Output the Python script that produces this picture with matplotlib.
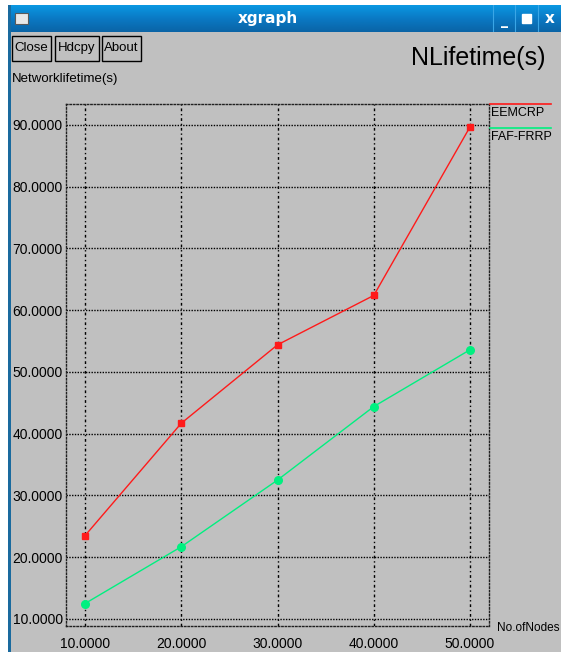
import numpy as np
import matplotlib
matplotlib.use("Agg")
import matplotlib.pyplot as plt
from matplotlib.patches import Rectangle
from matplotlib.lines import Line2D

# series data
nodes = [10, 20, 30, 40, 50]
eemcrp = [23.5, 41.7, 54.4, 62.4, 89.7]
faf_frrp = [12.5, 21.7, 32.5, 44.4, 53.6]
series_names = ["EEMCRP", "FAF-FRRP"]

x_ticks = [10, 20, 30, 40, 50]
y_ticks = [10, 20, 30, 40, 50, 60, 70, 80, 90]

W, H = 561, 652
BG = "#c0c0c0"
FONT = ["Liberation Sans", "DejaVu Sans"]


def fx(px):
    return px / W


def fy(py):
    return 1 - py / H


fig = plt.figure(figsize=(W / 100, H / 100), dpi=100, facecolor=BG)

# window frame: white outside, blue left border, gradient title bar
fig.add_artist(Rectangle((0, 0), fx(8), 1, transform=fig.transFigure,
                         facecolor="white", edgecolor="none"))
fig.add_artist(Rectangle((0, fy(5)), 1, 1 - fy(5), transform=fig.transFigure,
                         facecolor="white", edgecolor="none"))
fig.add_artist(Rectangle((fx(8), 0), fx(3), fy(5), transform=fig.transFigure,
                         facecolor="#1a6a9e", edgecolor="none"))

bar = fig.add_axes([fx(8), fy(32), 1 - fx(8), fy(5) - fy(32)])
grad = np.linspace(0, 1, 64).reshape(-1, 1)
cmap = matplotlib.colors.LinearSegmentedColormap.from_list(
    "bar", ["#0b98e2", "#0a79c4", "#0a64a6"])
bar.imshow(grad, aspect="auto", cmap=cmap, extent=[0, 1, 0, 1])
bar.set_axis_off()
bar.text(0.47, 0.5, "xgraph", color="white", fontsize=11, fontweight="bold",
         ha="center", va="center", family="DejaVu Sans")
bar.add_patch(Rectangle((0.013, 0.3), 0.024, 0.42, facecolor="#e8e8e8",
                        edgecolor="#5a5a5a", linewidth=0.8))
for xs in [0.877, 0.917, 0.958]:
    bar.axvline(xs, color="#3aa6e6", linewidth=0.8)
bar.text(0.897, 0.42, "_", color="white", fontsize=10, fontweight="bold",
         ha="center", va="center")
bar.add_patch(Rectangle((0.930, 0.33), 0.016, 0.34, facecolor="white",
                        edgecolor="white"))
bar.text(0.979, 0.5, "x", color="white", fontsize=11, fontweight="bold",
         ha="center", va="center")

# buttons
for label, x0, x1 in [("Close", 12, 51), ("Hdcpy", 55, 99), ("About", 102, 141)]:
    fig.add_artist(Rectangle((fx(x0), fy(61)), fx(x1 - x0), fy(36) - fy(61),
                             transform=fig.transFigure, facecolor=BG,
                             edgecolor="black", linewidth=1.0))
    fig.text(fx((x0 + x1) / 2), fy(48), label, ha="center", va="center",
             fontsize=9.5, family=FONT)

fig.text(fx(478), fy(58), "NLifetime(s)", ha="center", va="center",
         fontsize=18, family=FONT)
fig.text(fx(12), fy(79), "Networklifetime(s)", ha="left", va="center",
         fontsize=9.5, family=FONT)
fig.text(fx(497), fy(628), "No.ofNodes", ha="left", va="center",
         fontsize=8.5, family=FONT)

# plot area
ax = fig.add_axes([fx(65.5), fy(626), fx(489) - fx(65.5), fy(104) - fy(626)])
ax.set_facecolor(BG)
ax.set_xlim(7.97, 51.97)
ax.set_ylim(8.86, 93.4)

for yv in y_ticks:
    ax.axhline(yv, color="black", linewidth=1.0, linestyle=(0, (1, 1)), zorder=1)
for xv in x_ticks:
    ax.axvline(xv, color="black", linewidth=1.0, linestyle=(0, (2, 2, 1, 2)), zorder=1)
for side in ax.spines.values():
    side.set_linestyle((0, (1, 1.5)))
    side.set_linewidth(1.0)
    side.set_edgecolor("#202020")

ax.plot(nodes, eemcrp, color="#ff1a1a", linewidth=1.0, marker="s",
        markersize=5, zorder=3)
ax.plot(nodes, faf_frrp, color="#00f080", linewidth=1.0, marker="o",
        markersize=5.5, zorder=3)

ax.set_xticks(x_ticks)
ax.set_yticks(y_ticks)
ax.set_xticklabels([f"{v:.4f}" for v in x_ticks], family=FONT, fontsize=10)
ax.set_yticklabels([f"{v:.4f}" for v in y_ticks], family=FONT, fontsize=10)
ax.tick_params(axis="x", length=0, pad=8)
ax.tick_params(axis="y", length=0, pad=2)

# legend at the right of the plot
for name, color, ly in [(series_names[0], "#ff1a1a", 104), (series_names[1], "#00f080", 128)]:
    fig.add_artist(Line2D([fx(490), fx(551)], [fy(ly), fy(ly)],
                          transform=fig.transFigure, color=color, linewidth=1.2))
    fig.text(fx(491), fy(ly + 9), name, ha="left", va="center",
             fontsize=9, family=FONT)

fig.savefig("out.png", dpi=100, facecolor=BG)
